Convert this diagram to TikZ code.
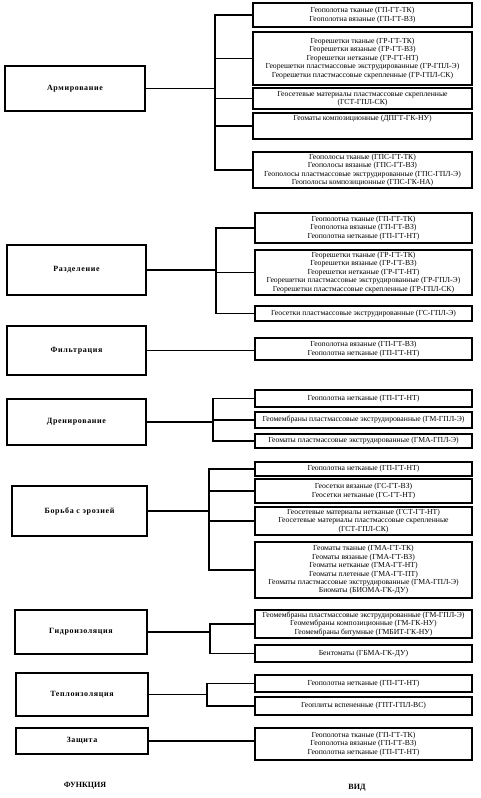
\documentclass[tikz,border=0pt]{standalone}
\usepackage{fontspec}
\setmainfont{Liberation Serif}
\newcommand\bx[7]{\node[#1, minimum width={(#5-#3)*1pt}, minimum height={(#6-#4)*1pt}] (#2) at ({(#3+#5)/2},{(#4+#6)/2}) {#7};}
\tikzset{
 fbox/.style={draw, line width=1.3pt, inner sep=0pt, align=center, font=\fontsize{8}{9}\selectfont\bfseries\addfontfeature{LetterSpace=8}},
 rbox/.style={draw, line width=1.6pt, inner sep=0pt, align=center, font=\fontsize{7.7}{8.4}\selectfont},
 conn/.style={line width=1.1pt},
 lab/.style={font=\fontsize{8}{9}\selectfont\bfseries}
}
\begin{document}
\begin{tikzpicture}[x=1pt,y=-1pt]
\useasboundingbox (0,0) rectangle (481,798);
% functions
\bx{fbox}{f1}{5}{66}{145}{111}{Армирование}
\bx{fbox}{f2}{7}{245}{146}{295}{Разделение}
\bx{fbox}{f3}{7}{326}{146}{375}{Фильтрация}
\bx{fbox}{f4}{7}{399}{146}{445}{Дренирование}
\bx{fbox}{f5}{12}{486}{147}{536}{Борьба с эрозией}
\bx{fbox}{f6}{15}{610}{147}{654}{Гидроизоляция}
\bx{fbox}{f7}{16}{673}{148}{716}{Теплоизоляция}
\bx{fbox}{f8}{16}{728}{148}{754}{Защита}
% Армирование
\bx{rbox}{a1}{253}{3}{472}{27}{Геополотна тканые (ГП-ГТ-ТК)\\Геополотна вязаные (ГП-ГТ-ВЗ)}
\bx{rbox}{a2}{253}{32}{472}{85}{Георешетки тканые (ГР-ГТ-ТК)\\Георешетки вязаные (ГР-ГТ-ВЗ)\\Георешетки нетканые (ГР-ГТ-НТ)\\Георешетки пластмассовые экструдированные (ГР-ГПЛ-Э)\\Георешетки пластмассовые скрепленные (ГР-ГПЛ-СК)}
\bx{rbox}{a3}{253}{88}{472}{109}{Геосетевые материалы пластмассовые скрепленные\\(ГСТ-ГПЛ-СК)}
\bx{rbox}{a4}{253}{113}{472}{139}{Геоматы композиционные (ДПГТ-ГК-НУ)\\\mbox{}\\\mbox{}}
\bx{rbox}{a5}{253}{152}{472}{188}{Геополосы тканые (ГПС-ГТ-ТК)\\Геополосы вязаные (ГПС-ГТ-ВЗ)\\Геополосы пластмассовые экструдированные (ГПС-ГПЛ-Э)\\Геополосы композиционные (ГПС-ГК-НА)}
% Разделение
\bx{rbox}{r1}{255}{213}{472}{243}{Геополотна тканые (ГП-ГТ-ТК)\\Геополотна вязаные (ГП-ГТ-ВЗ)\\Геополотна нетканые (ГП-ГТ-НТ)}
\bx{rbox}{r2}{255}{250}{472}{295}{Георешетки тканые (ГР-ГТ-ТК)\\Георешетки вязаные (ГР-ГТ-ВЗ)\\Георешетки нетканые (ГР-ГТ-НТ)\\Георешетки пластмассовые экструдированные (ГР-ГПЛ-Э)\\Георешетки пластмассовые скрепленные (ГР-ГПЛ-СК)}
\bx{rbox}{r3}{255}{306}{472}{321}{Геосетки пластмассовые экструдированные (ГС-ГПЛ-Э)}
% Фильтрация
\bx{rbox}{p1}{255}{338}{472}{360}{Геополотна вязаные (ГП-ГТ-ВЗ)\\Геополотна нетканые (ГП-ГТ-НТ)}
% Дренирование
\bx{rbox}{d1}{255}{390}{472}{407}{Геополотна нетканые (ГП-ГТ-НТ)}
\bx{rbox}{d2}{255}{412}{472}{428}{Геомембраны пластмассовые экструдированные (ГМ-ГПЛ-Э)}
\bx{rbox}{d3}{255}{434}{472}{448}{Геоматы пластмассовые экструдированные (ГМА-ГПЛ-Э)}
% Борьба с эрозией
\bx{rbox}{e1}{255}{462}{472}{476}{Геополотна нетканые (ГП-ГТ-НТ)}
\bx{rbox}{e2}{255}{479}{472}{503}{Геосетки вязаные (ГС-ГТ-ВЗ)\\Геосетки нетканые (ГС-ГТ-НТ)}
\bx{rbox}{e3}{255}{507}{472}{535}{Геосетевые материалы нетканые (ГСТ-ГТ-НТ)\\Геосетевые материалы пластмассовые скрепленные\\(ГСТ-ГПЛ-СК)}
\bx{rbox}{e4}{255}{542}{472}{598}{Геоматы тканые (ГМА-ГТ-ТК)\\Геоматы вязаные (ГМА-ГТ-ВЗ)\\Геоматы нетканые (ГМА-ГТ-НТ)\\Геоматы плетеные (ГМА-ГТ-ПТ)\\Геоматы пластмассовые экструдированные (ГМА-ГПЛ-Э)\\Биоматы (БИОМА-ГК-ДУ)}
% Гидроизоляция
\bx{rbox}{g1}{255}{610}{472}{638}{Геомембраны пластмассовые экструдированные (ГМ-ГПЛ-Э)\\Геомембраны композиционные (ГМ-ГК-НУ)\\Геомембраны битумные (ГМБИТ-ГК-НУ)}
\bx{rbox}{g2}{255}{645}{472}{662}{Бентоматы (ГБМА-ГК-ДУ)}
% Теплоизоляция
\bx{rbox}{t1}{255}{675}{472}{692}{Геополотна нетканые (ГП-ГТ-НТ)}
\bx{rbox}{t2}{255}{697}{472}{715}{Геоплиты вспененные (ГПТ-ГПЛ-ВС)}
% Защита
\bx{rbox}{z1}{255}{728}{472}{760}{Геополотна тканые (ГП-ГТ-ТК)\\Геополотна вязаные (ГП-ГТ-ВЗ)\\Геополотна нетканые (ГП-ГТ-НТ)}
% bus x positions
\coordinate (xa) at (215,0);
\coordinate (xr) at (216,0);
\coordinate (xd) at (213,0);
\coordinate (xe) at (209,0);
\coordinate (xg) at (210,0);
\coordinate (xt) at (207,0);
\coordinate (ba) at (f1.east -| xa);
\coordinate (br) at (f2.east -| xr);
\coordinate (bd) at (f4.east -| xd);
\coordinate (be) at (f5.east -| xe);
\coordinate (bg) at (f6.east -| xg);
\coordinate (bt) at (f7.east -| xt);
\draw[conn] (f1.east) -- (ba);
\foreach \v in {a1,a2,a3,a4,a5} \draw[conn] (ba) |- (\v.west);
\draw[conn] (f2.east) -- (br);
\foreach \v in {r1,r2,r3} \draw[conn] (br) |- (\v.west);
\draw[conn] (f3.east) -- (f3.east -| p1.west);
\draw[conn] (f4.east) -- (bd);
\foreach \v in {d1,d2,d3} \draw[conn] (bd) |- (\v.west);
\draw[conn] (f5.east) -- (be);
\foreach \v in {e1,e2,e3,e4} \draw[conn] (be) |- (\v.west);
\draw[conn] (f6.east) -- (bg);
\foreach \v in {g1,g2} \draw[conn] (bg) |- (\v.west);
\draw[conn] (f7.east) -- (bt);
\foreach \v in {t1,t2} \draw[conn] (bt) |- (\v.west);
\draw[conn] (f8.east) -- (f8.east -| z1.west);
% column labels
\node[lab] (lf) at (85,786) {ФУНКЦИЯ};
\node[lab] (lv) at (357,788) {ВИД};
\end{tikzpicture}
\end{document}
